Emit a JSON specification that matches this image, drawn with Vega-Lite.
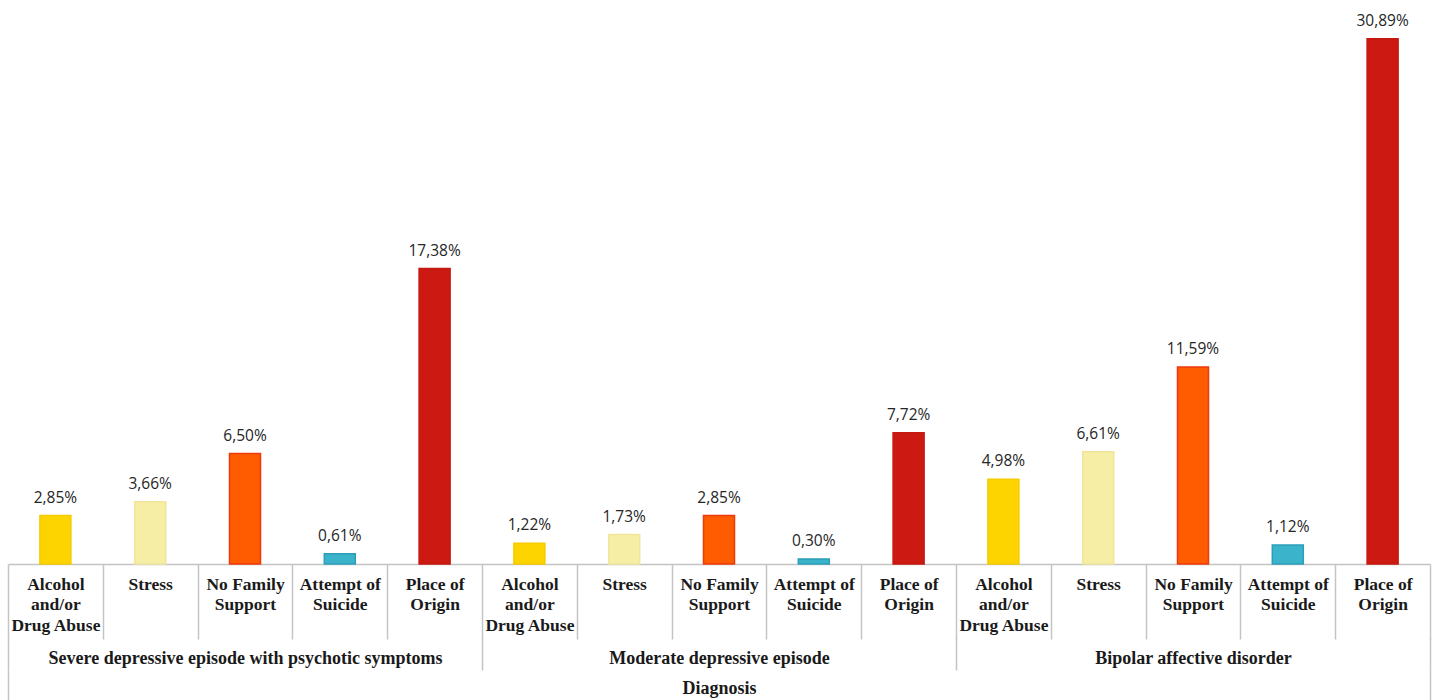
{
  "$schema": "https://vega.github.io/schema/vega-lite/v6.json",
  "autosize": "none",
  "width": 1422,
  "height": 544,
  "padding": {"left": 8, "top": 20, "right": 6, "bottom": 136},
  "background": "white",
  "config": {
    "view": {"stroke": null},
    "locale": {"number": {"decimal": ",", "thousands": ".", "grouping": [3], "currency": ["", " €"], "percent": "%"}}
  },
  "data": {
    "values": [
      {"group": "Severe depressive episode with psychotic symptoms", "cause": "Alcohol and/or Drug Abuse", "id": "01|Alcohol|and/or|Drug Abuse", "value": 0.0285},
      {"group": "Severe depressive episode with psychotic symptoms", "cause": "Stress", "id": "02|Stress", "value": 0.0366},
      {"group": "Severe depressive episode with psychotic symptoms", "cause": "No Family Support", "id": "03|No Family|Support", "value": 0.065},
      {"group": "Severe depressive episode with psychotic symptoms", "cause": "Attempt of Suicide", "id": "04|Attempt of|Suicide", "value": 0.0061},
      {"group": "Severe depressive episode with psychotic symptoms", "cause": "Place of Origin", "id": "05|Place of|Origin", "value": 0.1738},
      {"group": "Moderate depressive episode", "cause": "Alcohol and/or Drug Abuse", "id": "06|Alcohol|and/or|Drug Abuse", "value": 0.0122},
      {"group": "Moderate depressive episode", "cause": "Stress", "id": "07|Stress", "value": 0.0173},
      {"group": "Moderate depressive episode", "cause": "No Family Support", "id": "08|No Family|Support", "value": 0.0285},
      {"group": "Moderate depressive episode", "cause": "Attempt of Suicide", "id": "09|Attempt of|Suicide", "value": 0.003},
      {"group": "Moderate depressive episode", "cause": "Place of Origin", "id": "10|Place of|Origin", "value": 0.0772},
      {"group": "Bipolar affective disorder", "cause": "Alcohol and/or Drug Abuse", "id": "11|Alcohol|and/or|Drug Abuse", "value": 0.0498},
      {"group": "Bipolar affective disorder", "cause": "Stress", "id": "12|Stress", "value": 0.0661},
      {"group": "Bipolar affective disorder", "cause": "No Family Support", "id": "13|No Family|Support", "value": 0.1159},
      {"group": "Bipolar affective disorder", "cause": "Attempt of Suicide", "id": "14|Attempt of|Suicide", "value": 0.0112},
      {"group": "Bipolar affective disorder", "cause": "Place of Origin", "id": "15|Place of|Origin", "value": 0.3089}
    ]
  },
  "layer": [
    {
      "encoding": {
        "x": {
          "field": "id", "type": "nominal", "sort": null,
          "scale": {"paddingInner": 0, "paddingOuter": 0},
          "axis": {
            "orient": "bottom", "title": null,
            "labelExpr": "slice(split(datum.label, '|'), 1)",
            "labelAngle": 0, "labelAlign": "center", "labelBaseline": "top",
            "labelFont": "Liberation Serif", "labelFontWeight": "bold", "labelFontSize": 17.5,
            "labelColor": "#1a1a1a", "labelLineHeight": 20.5, "labelPadding": -64,
            "labelLimit": 200,
            "tickBand": "extent", "tickSize": 75, "tickColor": "#c4c4c4", "tickWidth": 1.5,
            "domainColor": "#c4c4c4", "domainWidth": 1.5, "grid": false
          }
        },
        "y": {
          "field": "value", "type": "quantitative",
          "scale": {"domain": [0, 0.32], "nice": false},
          "axis": null
        }
      },
      "layer": [
        {
          "mark": {"type": "bar", "width": 31, "strokeWidth": 1.5},
          "encoding": {
            "color": {
              "field": "cause", "type": "nominal", "legend": null,
              "scale": {
                "domain": ["Alcohol and/or Drug Abuse", "Stress", "No Family Support", "Attempt of Suicide", "Place of Origin"],
                "range": ["#FDD300", "#F6EEA4", "#FF5B00", "#3AB3CB", "#CC1A12"]
              }
            },
            "stroke": {
              "field": "cause", "type": "nominal", "legend": null,
              "scale": {
                "domain": ["Alcohol and/or Drug Abuse", "Stress", "No Family Support", "Attempt of Suicide", "Place of Origin"],
                "range": ["#F5CC00", "#F0E59A", "#EC3A0C", "#2C9EBB", "#C41810"]
              }
            }
          }
        },
        {
          "mark": {"type": "text", "baseline": "middle", "dy": -18, "font": "Open Sans", "fontSize": 15.5, "color": "#262626"},
          "encoding": {
            "text": {"field": "value", "type": "quantitative", "format": ".2%"}
          }
        }
      ]
    },
    {
      "mark": {"type": "rule", "opacity": 0},
      "encoding": {
        "x": {
          "field": "group", "type": "nominal", "sort": null,
          "scale": {"paddingInner": 0, "paddingOuter": 0},
          "axis": {
            "orient": "bottom", "offset": 74, "domain": false,
            "title": "Diagnosis", "titleFont": "Liberation Serif", "titleFontWeight": "bold", "titleFontSize": 18, "titleColor": "#1a1a1a", "titlePadding": 9,
            "labelAngle": 0, "labelAlign": "center", "labelBaseline": "middle",
            "labelFont": "Liberation Serif", "labelFontWeight": "bold", "labelFontSize": 18,
            "labelColor": "#1a1a1a", "labelPadding": -12, "labelLimit": 600,
            "tickBand": "extent", "tickSize": 32, "tickColor": "#c4c4c4", "tickWidth": 1.5, "grid": false
          }
        }
      }
    },
    {
      "mark": {"type": "rule", "opacity": 0},
      "encoding": {
        "x": {
          "datum": "Diagnosis", "type": "nominal",
          "scale": {"paddingInner": 0, "paddingOuter": 0},
          "axis": {
            "orient": "bottom", "offset": 106, "domain": false, "labels": false, "title": null,
            "tickBand": "extent", "tickSize": 40, "tickColor": "#c4c4c4", "tickWidth": 1.5, "grid": false
          }
        }
      }
    }
  ],
  "resolve": {"scale": {"x": "independent", "color": "shared"}, "axis": {"x": "independent"}}
}
